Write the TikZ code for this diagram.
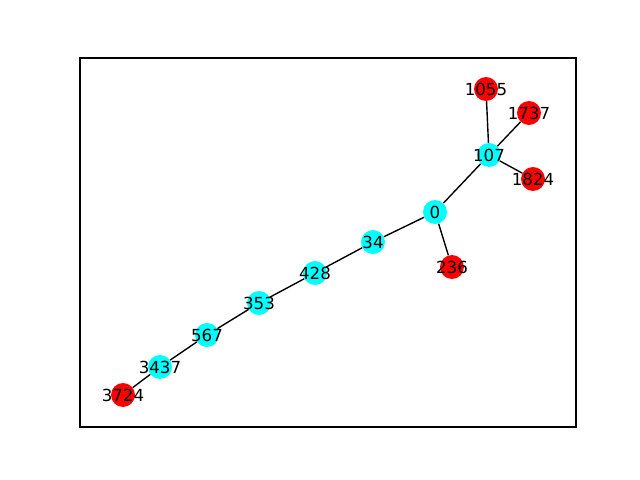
\documentclass[tikz,border=0pt]{standalone}
\usepackage{fontspec}
\setmainfont{DejaVu Sans}
\usetikzlibrary{positioning}
\definecolor{aqua}{RGB}{0,255,255}
\definecolor{pure red}{RGB}{255,0,0}

\begin{document}
\begin{tikzpicture}[x=0.01in,y=-0.01in,
    leaf/.style={circle,fill=pure red,inner sep=0pt,minimum size=17.3pt},
    hub/.style={circle,fill=aqua,inner sep=0pt,minimum size=17.3pt},
    link/.style={line width=1pt,black}]
    % Fix the page to the figure size
    \useasboundingbox (0,0) rectangle (640,480);
    
    % Draw the axes frame
    \draw[line width=0.8pt] (80,58) rectangle (576,427);
    
    % Place the inner nodes
    \node[hub] (n0) at (435,212) {};
    \node[hub] (n107) at (489,155) {};
    \node[hub] (n34) at (373,242) {};
    \node[hub] (n428) at (315,273) {};
    \node[hub] (n353) at (259,303) {};
    \node[hub] (n567) at (207,335) {};
    \node[hub] (n3437) at (160,367) {};
    
    % Place the end nodes
    \node[leaf] (n1055) at (486,89) {};
    \node[leaf] (n1737) at (529,113) {};
    \node[leaf] (n1824) at (533,179) {};
    \node[leaf] (n236) at (452,267) {};
    \node[leaf] (n3724) at (123,395) {};
    
    % Draw the edges
    \draw[link] (n1055) -- (n107);
    \draw[link] (n1737) -- (n107);
    \draw[link] (n107) -- (n1824);
    \draw[link] (n107) -- (n0);
    \draw[link] (n0) -- (n34);
    \draw[link] (n0) -- (n236);
    \draw[link] (n34) -- (n428);
    \draw[link] (n428) -- (n353);
    \draw[link] (n353) -- (n567);
    \draw[link] (n567) -- (n3437);
    \draw[link] (n3437) -- (n3724);
    
    % Label the nodes
    \foreach \n in {0,107,34,428,353,567,3437,1055,1737,1824,236,3724}
        \node[font=\fontsize{12pt}{14pt}\selectfont] at (n\n) {\n};
\end{tikzpicture}
\end{document}
